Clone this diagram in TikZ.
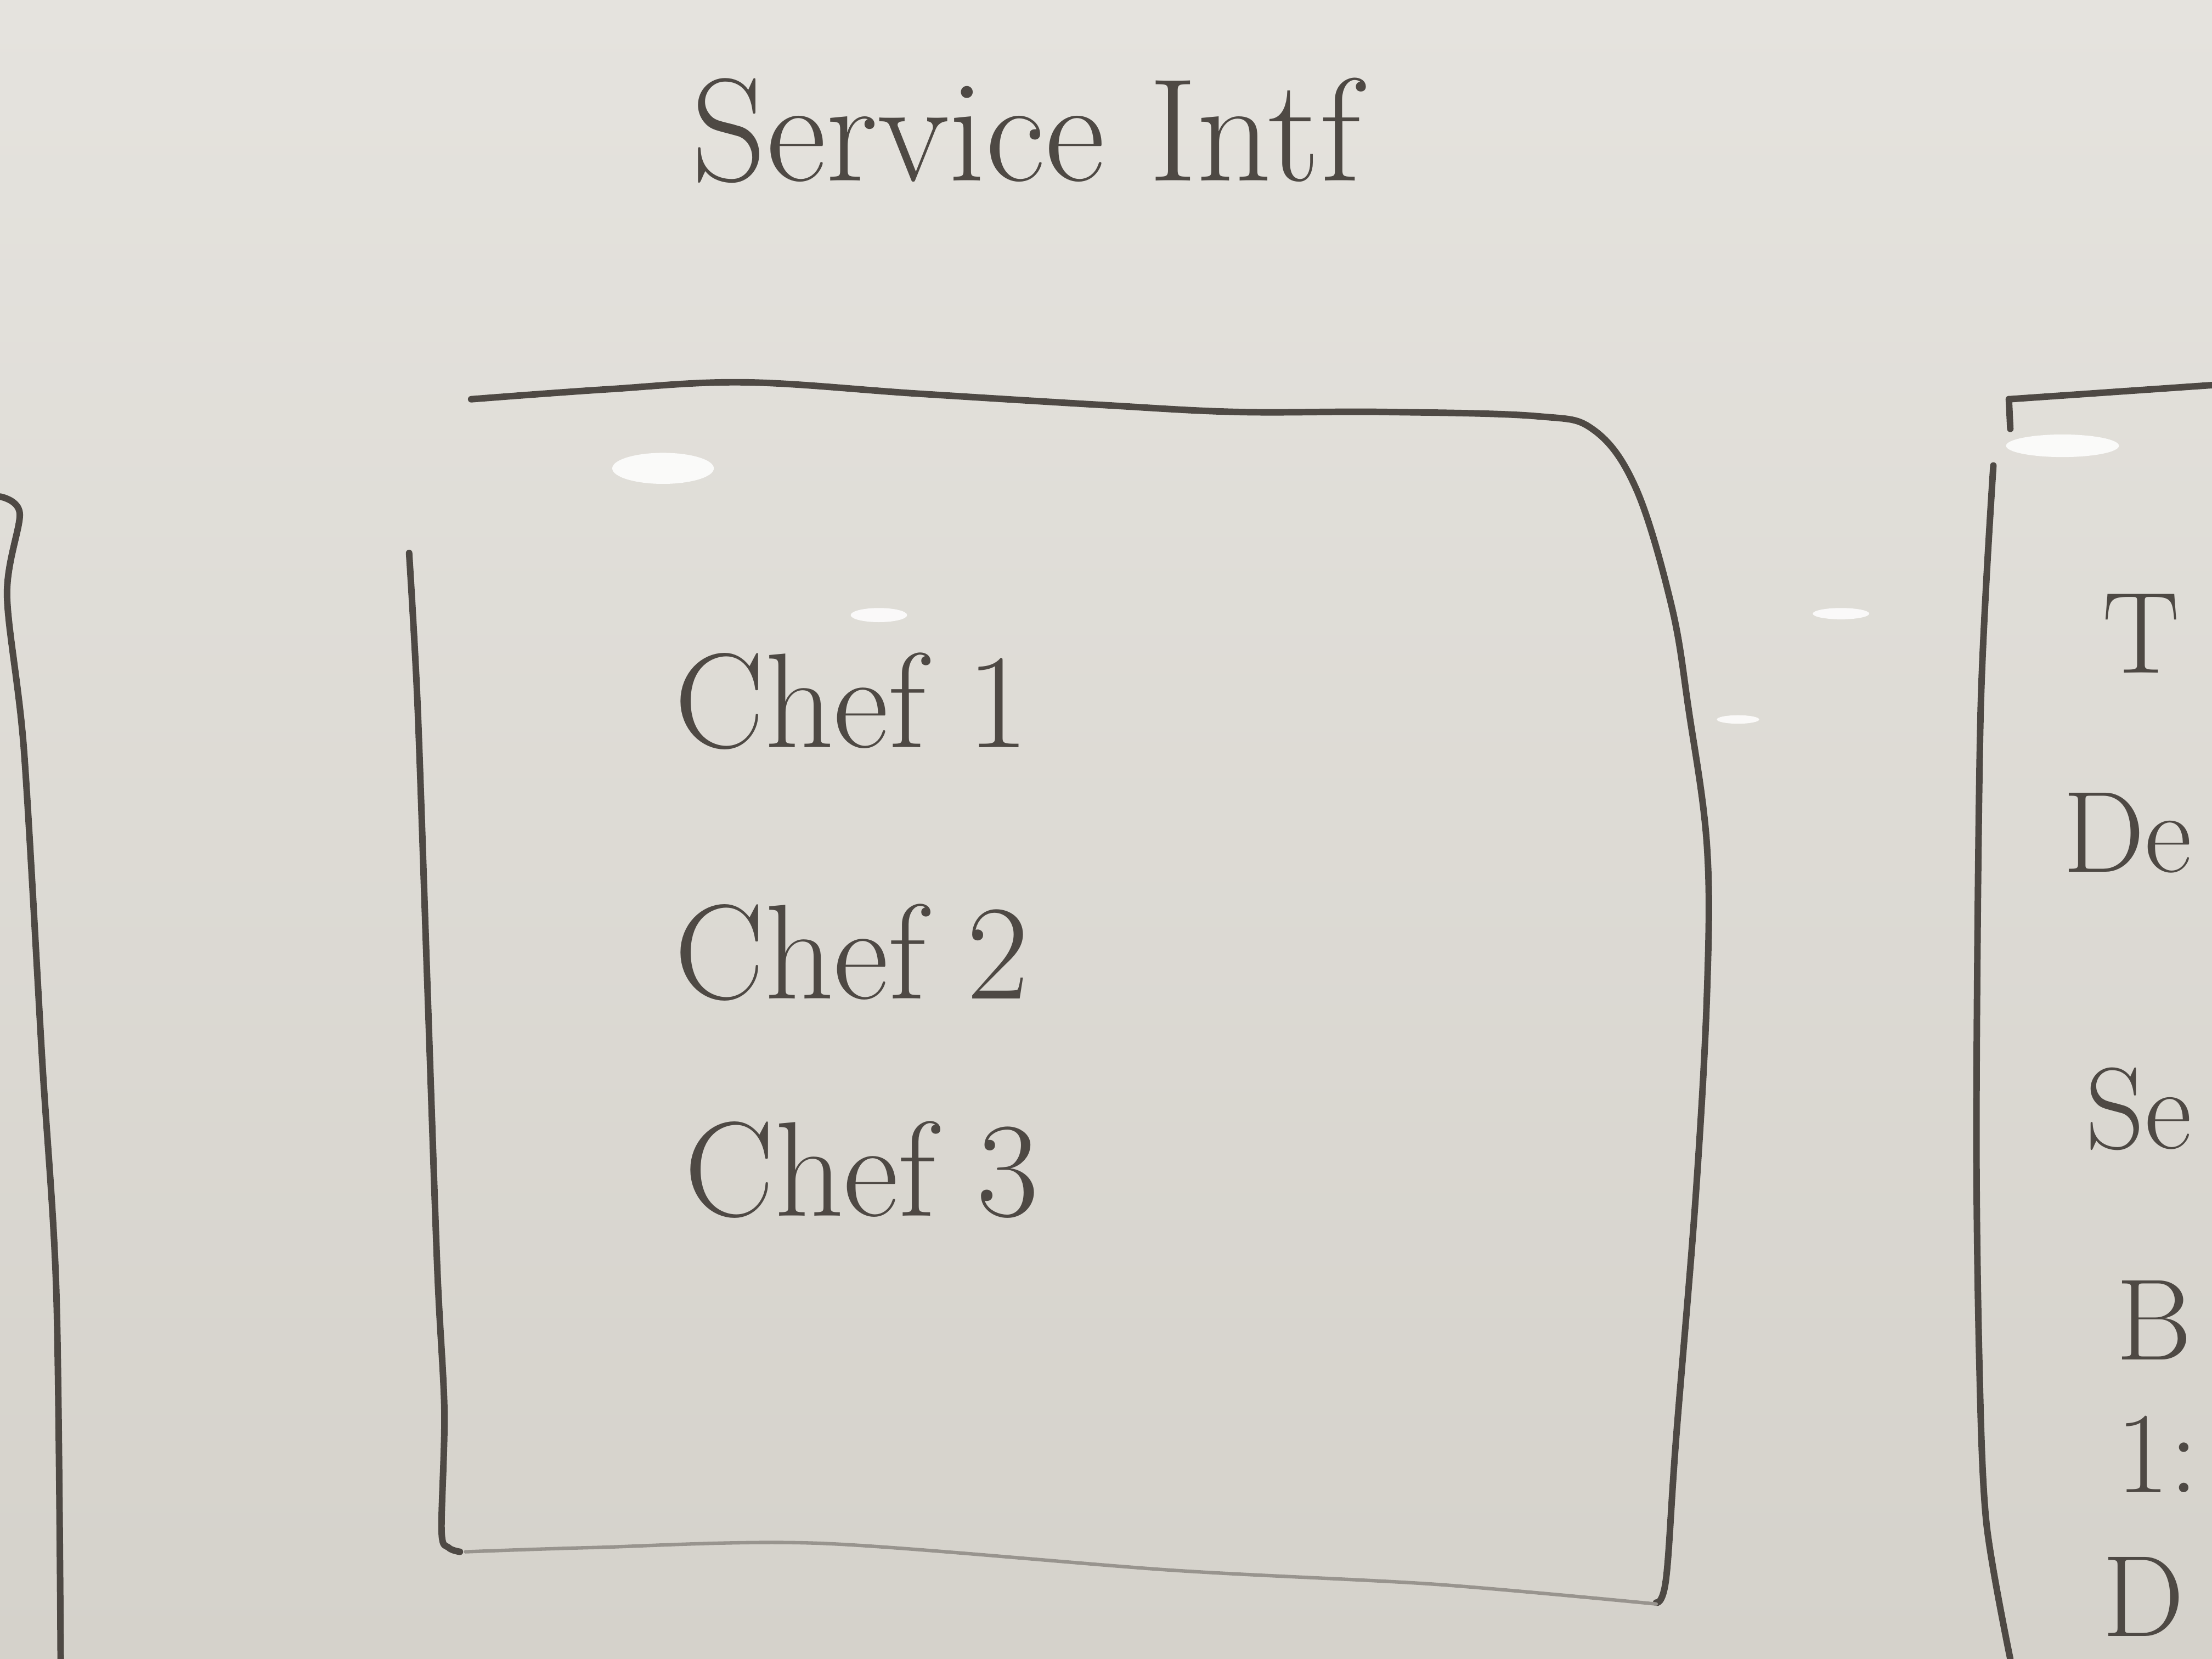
\documentclass[tikz,border=0pt]{standalone}
\usepackage{fontspec}
\definecolor{ink}{RGB}{78,73,68}
\definecolor{boardtop}{RGB}{229,227,222}
\definecolor{boardbot}{RGB}{213,210,203}
\tikzset{
  marker/.style={draw=ink, line width=3.4pt, line cap=round, line join=round},
  faint/.style={draw=ink!45!boardbot, line width=1.8pt, line cap=round, line join=round},
  scrawl/.style={text=ink, inner sep=0pt, anchor=base west, font=\fontsize{70}{80}\selectfont},
  edge text/.style={scrawl, font=\fontsize{60}{70}\selectfont},
  glare/.style={fill=white, opacity=0.85}
}
\begin{document}
\begin{tikzpicture}[x=0.025714cm, y=-0.025714cm]
  \useasboundingbox (0,0) rectangle (1568,1176);
  \clip (0,0) rectangle (1568,1176);
  \shade [top color=boardtop, bottom color=boardbot] (0,0) rectangle (1568,1176);
  \fill [glare] (470,332) ellipse [x radius=36, y radius=11];
  \fill [glare] (623,436) ellipse [x radius=20, y radius=5];
  \fill [glare] (1305,435) ellipse [x radius=20, y radius=4];
  \fill [glare] (1232,510) ellipse [x radius=15, y radius=3];
  \fill [glare] (1462,316) ellipse [x radius=40, y radius=8];

  \node [scrawl, font=\fontsize{76}{84}\selectfont] (title) at (490,128) {Service Intf};

  \draw [marker] plot [smooth, tension=0.6] coordinates {(334,283) (430,276) (528,271) (650,279) (780,287) (876,292) (980,292) (1089,295) (1130,305) (1160,347) (1185,430) (1197,503) (1210,600) (1210,704) (1202,848) (1188,1021) (1181,1119) (1174,1136)};
  \draw [faint] plot [smooth] coordinates {(1174,1137) (1017,1123) (830,1113) (582,1094) (420,1097) (330,1100)};
  \draw [marker] plot [smooth] coordinates {(290,392) (296,500) (303,700) (310,900) (315,1000) (313,1085) (318,1097) (326,1100)};

  \foreach \n/\x/\y in {1/478/530, 2/478/708, 3/485/862}
    \node [scrawl] (chef\n) at (\x,\y) {Chef \n};

  \draw [marker] plot [smooth] coordinates {(0,352) (14,364) (5,422) (17,532) (30,753) (40,918) (43,1176)};

  \draw [marker] (1424,283) -- (1568,273);
  \draw [marker] (1424,283) -- (1425,304);
  \draw [marker] plot [smooth] coordinates {(1413,330) (1404,503) (1401,791) (1403,964) (1408,1079) (1425,1176)};

  \node [edge text] (rowT) at (1490,477) {T};
  \node [edge text] (rowDe) at (1462,618) {De};
  \node [edge text] (rowSe) at (1478,814) {Se};
  \node [edge text] (rowB) at (1500,964) {B};
  \node [edge text] (rowOne) at (1500,1058) {1:};
  \node [edge text] (rowD) at (1490,1160) {D};
\end{tikzpicture}
\end{document}
